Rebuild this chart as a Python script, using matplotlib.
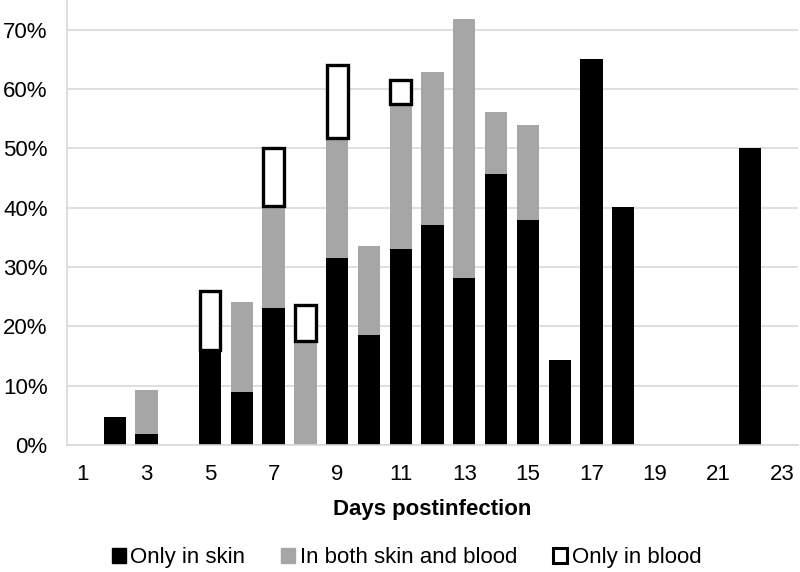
import numpy as np
import matplotlib
matplotlib.use("Agg")
import matplotlib.pyplot as plt
from matplotlib.patches import Patch
from matplotlib.ticker import PercentFormatter

plt.rcParams['font.family'] = ['Liberation Sans', 'DejaVu Sans']

days = list(range(1, 24))
# percent of cases per day postinfection
only_skin = [0, 4.8, 1.9, 0, 16.0, 9.0, 23.1, 0, 31.5, 18.6, 33.1, 37.0, 28.2,
             45.6, 38.0, 14.4, 65.0, 40.1, 0, 0, 0, 50.1, 0]
both = [0, 0, 7.4, 0, 0, 15.1, 17.2, 17.5, 20.3, 15.0, 24.4, 25.8, 43.6,
        10.5, 15.9, 0, 0, 0, 0, 0, 0, 0, 0]
only_blood = [0, 0, 0, 0, 9.9, 0, 9.7, 6.1, 12.2, 0, 4.0, 0, 0,
              0, 0, 0, 0, 0, 0, 0, 0, 0, 0]
tick_days = [1, 3, 5, 7, 9, 11, 13, 15, 17, 19, 21, 23]
labels = ['Only in skin', 'In both skin and blood', 'Only in blood']

gray = '#a6a6a6'
grid_c = '#d9d9d9'

fig = plt.figure(figsize=(8, 5.72), dpi=100)
ax = fig.add_axes([0.0838, 0.222, 0.9137, 0.778])

x = np.array(days)
s = np.array(only_skin)
b = np.array(both)
w = np.array(only_blood)
width = 0.7

ax.bar(x, s, width, color='black', zorder=2)
ax.bar(x, b, width, bottom=s, color=gray, zorder=2)
m = w > 0
ax.bar(x[m], w[m], 0.65, bottom=(s + b)[m], color='white',
       edgecolor='black', linewidth=2.4, zorder=3)

ax.set_xlim(0.5, 23.5)
ax.set_ylim(0, 75)
ax.set_yticks(range(0, 71, 10))
ax.yaxis.set_major_formatter(PercentFormatter(decimals=0))
ax.set_xticks(tick_days)
ax.tick_params(axis='both', length=0, labelsize=16, colors='black')
ax.tick_params(axis='x', pad=14)
ax.tick_params(axis='y', pad=14)
ax.grid(axis='y', color=grid_c, linewidth=1.2, zorder=0)
ax.set_axisbelow(True)
for sp in ['top', 'right']:
    ax.spines[sp].set_visible(False)
ax.spines['left'].set_color(grid_c)
ax.spines['bottom'].set_color(grid_c)
ax.spines['left'].set_linewidth(1.2)
ax.spines['bottom'].set_linewidth(1.2)

ax.set_xlabel('Days postinfection', fontsize=16, fontweight='bold', labelpad=10)

handles = [Patch(facecolor='black', edgecolor='black'),
           Patch(facecolor=gray, edgecolor=gray),
           Patch(facecolor='white', edgecolor='black', linewidth=2.2)]
fig.legend(handles, labels, loc='center', bbox_to_anchor=(0.508, 0.025), ncol=3,
           frameon=False, fontsize=16, handlelength=0.65, handleheight=0.65,
           handletextpad=0.2, columnspacing=1.6, borderpad=0, borderaxespad=0)

fig.savefig('out.png', dpi=100)
